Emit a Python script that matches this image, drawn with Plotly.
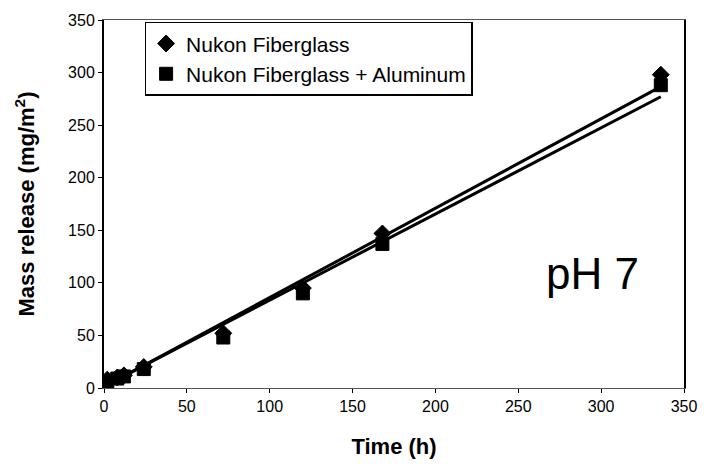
import numpy as np
import plotly.graph_objects as go

# Sampling times (h) and measured mass release (mg/m^2)
time_h = [2, 8, 12, 24, 72, 120, 168, 336]
fiberglass = [8, 10, 12, 20, 52, 95, 147, 298]
fiberglass_al = [6, 9, 11, 18, 48, 90, 137, 288]

# Linear trend lines: [slope, intercept]
trend_fiberglass = [0.85, 1.0]
trend_fiberglass_al = [0.82, 1.5]

series_names = ["Nukon Fiberglass", "Nukon Fiberglass + Aluminum"]
series_symbols = ["diamond", "square"]

fig = go.Figure()

t_line = np.array([min(time_h), max(time_h)], dtype=float)
for name, vals, sym, trend in zip(series_names, [fiberglass, fiberglass_al],
                                  series_symbols, [trend_fiberglass, trend_fiberglass_al]):
    slope, intercept = trend
    fig.add_trace(go.Scatter(
        x=t_line, y=slope * t_line + intercept, mode="lines",
        line=dict(color="black", width=3), showlegend=False, hoverinfo="skip"))
    fig.add_trace(go.Scatter(
        x=time_h, y=vals, mode="markers", name=name,
        marker=dict(symbol=sym, size=13, color="black",
                    line=dict(color="black", width=1))))

axis_common = dict(
    showgrid=False, zeroline=False, showline=True, mirror=True,
    ticks="outside", ticklen=4, tickcolor="black",
    tickfont=dict(family="Arial", size=16, color="black"),
)

fig.update_layout(
    width=709, height=473,
    margin=dict(l=104, r=19, t=15, b=85),
    paper_bgcolor="white", plot_bgcolor="white",
    xaxis=dict(range=[0, 350], dtick=50, linecolor="#555555", linewidth=1,
               title=dict(text="<b>Time (h)</b>", standoff=24,
                          font=dict(family="Arial", size=22, color="black")),
               **axis_common),
    yaxis=dict(range=[0, 350], dtick=50, linecolor="black", linewidth=2,
               title=dict(text="<b>Mass release (mg/m<sup>2</sup>)</b>", standoff=27,
                          font=dict(family="Arial", size=22, color="black")),
               **axis_common),
    legend=dict(x=0.07, y=0.995, xanchor="left", yanchor="top",
                bgcolor="white", bordercolor="black", borderwidth=1.5,
                font=dict(family="Arial", size=21, color="black"),
                itemwidth=30, tracegroupgap=4),
    annotations=[dict(text="pH 7", x=0.843, y=0.311, xref="paper", yref="paper",
                      xanchor="center", yanchor="middle", showarrow=False,
                      font=dict(family="Arial", size=44, color="black"))],
)

fig.write_html("out.html")
